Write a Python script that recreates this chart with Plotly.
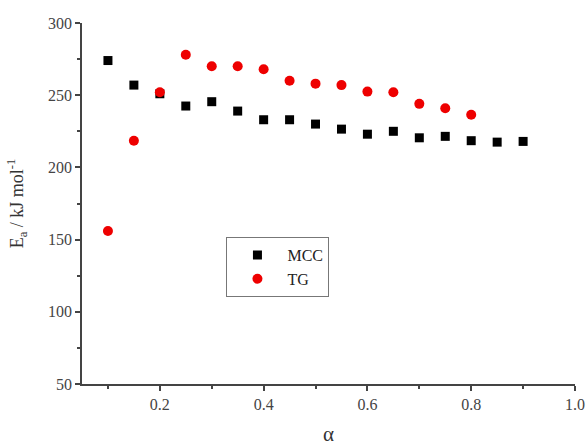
import plotly.graph_objects as go

alpha_mcc = [0.10, 0.15, 0.20, 0.25, 0.30, 0.35, 0.40, 0.45, 0.50, 0.55, 0.60, 0.65, 0.70, 0.75, 0.80, 0.85, 0.90]
ea_mcc = [274, 257, 251, 242.5, 245.5, 239, 233, 233, 230, 226.5, 223, 225, 220.5, 221.5, 218.5, 217.5, 218]

alpha_tg = [0.10, 0.15, 0.20, 0.25, 0.30, 0.35, 0.40, 0.45, 0.50, 0.55, 0.60, 0.65, 0.70, 0.75, 0.80]
ea_tg = [156, 218.5, 252, 278, 270, 270, 268, 260, 258, 257, 252.5, 252, 244, 241, 236.5]

x_ticks = [0.2, 0.4, 0.6, 0.8, 1.0]
y_ticks = [50, 100, 150, 200, 250, 300]

font_family = "Liberation Serif"

fig = go.Figure()
fig.add_trace(go.Scatter(x=alpha_mcc, y=ea_mcc, mode="markers", name="MCC",
                         marker=dict(symbol="square", size=9, color="black")))
fig.add_trace(go.Scatter(x=alpha_tg, y=ea_tg, mode="markers", name="TG",
                         marker=dict(symbol="circle", size=10, color="#ee0000")))

axis_common = dict(showgrid=False, zeroline=False, showline=True, linecolor="#444444",
                   linewidth=1.5, ticks="outside", ticklen=5, tickwidth=1.5,
                   tickcolor="#444444", mirror=False, automargin=False,
                   tickfont=dict(family=font_family, size=16, color="#444444"))

fig.update_xaxes(range=[0.05, 1.0], tickvals=x_ticks, ticktext=["0.2", "0.4", "0.6", "0.8", "1.0"],
                 minor=dict(ticks="outside", ticklen=3, tickwidth=1.5, tickcolor="#444444", dtick=0.1, tick0=0.1),
                 title=dict(text="α", font=dict(family=font_family, size=21, color="#333333"), standoff=22),
                 **axis_common)
fig.update_yaxes(range=[50, 300], tickvals=y_ticks,
                 minor=dict(ticks="outside", ticklen=3, tickwidth=1.5, tickcolor="#444444", dtick=25, tick0=25),
                 title=dict(text="E<sub>a</sub> / kJ mol<sup>-1</sup>", font=dict(family=font_family, size=18, color="#333333"), standoff=20),
                 **axis_common)

fig.update_layout(
    width=587, height=446,
    margin=dict(l=82, r=12, t=23, b=62),
    paper_bgcolor="white", plot_bgcolor="white",
    showlegend=True,
    legend=dict(x=0.293, y=0.407, xanchor="left", yanchor="top",
                bordercolor="#777777", borderwidth=1, bgcolor="white",
                font=dict(family=font_family, size=16, color="#222222"),
                itemwidth=50, tracegroupgap=0),
)

fig.write_html("out.html", config={"displayModeBar": False},
               post_script="document.body.style.margin='0';document.body.style.overflow='hidden';")
